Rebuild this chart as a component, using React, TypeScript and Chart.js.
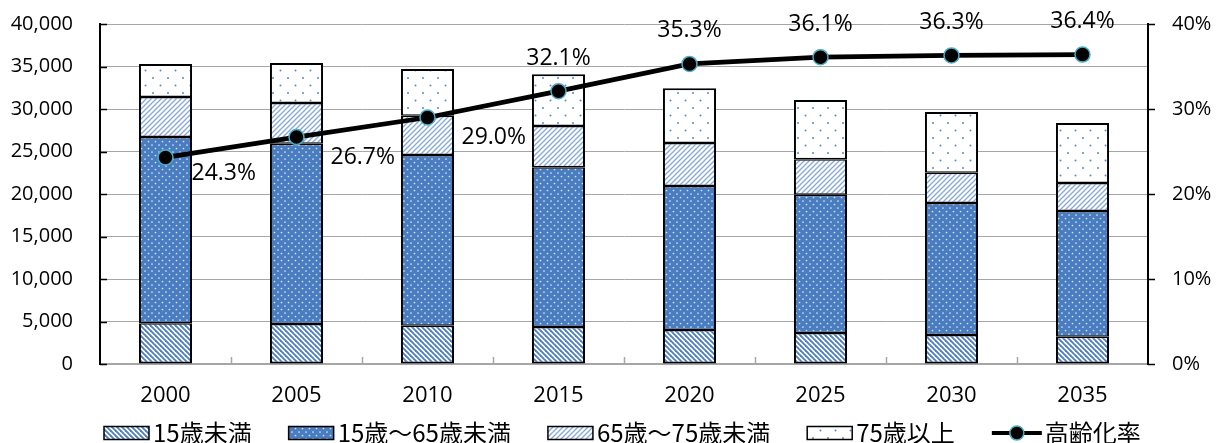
import React, { useEffect, useRef } from 'react';
import { Chart, registerables } from 'chart.js';

Chart.register(...registerables);

const categories = ['2000', '2005', '2010', '2015', '2020', '2025', '2030', '2035'];
const under15 = [4800, 4700, 4500, 4350, 4000, 3650, 3400, 3200];
const age15to64 = [21900, 21200, 20100, 18800, 16950, 16250, 15550, 14800];
const age65to74 = [4700, 4800, 4600, 4850, 5050, 4200, 3550, 3300];
const age75plus = [3900, 4700, 5500, 6100, 6450, 6950, 7150, 7050];
const agingRate = [24.3, 26.7, 29.0, 32.1, 35.3, 36.1, 36.3, 36.4];
const seriesNames = ['15歳未満', '15歳～65歳未満', '65歳～75歳未満', '75歳以上', '高齢化率'];
const leftMax = 40000;
const leftStep = 5000;
const rightMax = 40;
const rightStep = 10;

const NUM_FONT = "'Open Sans', 'Noto Sans CJK JP', sans-serif";
const CJK_FONT = "'Noto Sans CJK JP', 'Open Sans', sans-serif";

function makePattern(w: number, h: number, draw: (g: CanvasRenderingContext2D) => void) {
  const c = document.createElement('canvas');
  c.width = w;
  c.height = h;
  const g = c.getContext('2d') as CanvasRenderingContext2D;
  draw(g);
  return g.createPattern(c, 'repeat') as CanvasPattern;
}

function buildPatterns() {
  const p1 = makePattern(5, 5, (g) => {
    g.fillStyle = '#ffffff';
    g.fillRect(0, 0, 5, 5);
    g.strokeStyle = '#4F7FC3';
    g.lineWidth = 1.9;
    for (let k = -1; k <= 1; k++) {
      g.beginPath();
      g.moveTo(-1, k * 5 - 1);
      g.lineTo(6, 5 + k * 5 + 1);
      g.stroke();
    }
  });
  const p2 = makePattern(7, 7, (g) => {
    g.fillStyle = '#4A7DC0';
    g.fillRect(0, 0, 7, 7);
    g.fillStyle = 'rgba(235,242,250,0.9)';
    g.beginPath();
    g.arc(1.5, 1.5, 0.85, 0, Math.PI * 2);
    g.fill();
    g.beginPath();
    g.arc(5, 5, 0.85, 0, Math.PI * 2);
    g.fill();
  });
  const p3 = makePattern(5, 5, (g) => {
    g.fillStyle = '#ffffff';
    g.fillRect(0, 0, 5, 5);
    g.strokeStyle = '#86A8DA';
    g.lineWidth = 1.3;
    for (let k = 0; k <= 2; k++) {
      g.beginPath();
      g.moveTo(-1, k * 5 + 1);
      g.lineTo(k * 5 + 1, -1);
      g.stroke();
    }
  });
  const p4 = makePattern(15, 15, (g) => {
    g.fillStyle = '#ffffff';
    g.fillRect(0, 0, 15, 15);
    g.fillStyle = '#5B87C8';
    g.beginPath();
    g.arc(3, 3, 1, 0, Math.PI * 2);
    g.fill();
    g.beginPath();
    g.arc(10.5, 10.5, 1, 0, Math.PI * 2);
    g.fill();
  });
  return [p1, p2, p3, p4];
}

const decorPlugin = {
  id: 'decor',
  afterDatasetsDraw(chart: any) {
    const ctx = chart.ctx as CanvasRenderingContext2D;
    const meta = chart.getDatasetMeta(4);
    ctx.save();
    ctx.fillStyle = '#000';
    ctx.font = `23px ${NUM_FONT}`;
    ctx.textBaseline = 'middle';
    meta.data.forEach((pt: any, i: number) => {
      const txt = agingRate[i].toFixed(1) + '%';
      if (i < 3) {
        ctx.textAlign = 'left';
        ctx.fillText(txt, pt.x + (i === 0 ? 26 : 34), pt.y + (i === 0 ? 16 : 20));
      } else {
        ctx.textAlign = 'center';
        ctx.fillText(txt, pt.x, pt.y - 33);
      }
    });
    ctx.restore();
  },
  afterDraw(chart: any) {
    const ctx = chart.ctx as CanvasRenderingContext2D;
    const { left, right, bottom } = chart.chartArea;
    const y = chart.scales.y;
    const y1 = chart.scales.y1;
    const x = chart.scales.x;
    ctx.save();
    ctx.strokeStyle = '#000';
    ctx.lineWidth = 1.5;
    y.ticks.forEach((t: any) => {
      const py = Math.round(y.getPixelForValue(t.value)) + 0.5;
      ctx.beginPath();
      ctx.moveTo(left, py);
      ctx.lineTo(left + 7, py);
      ctx.stroke();
    });
    y1.ticks.forEach((t: any) => {
      const py = Math.round(y1.getPixelForValue(t.value)) + 0.5;
      ctx.beginPath();
      ctx.moveTo(right, py);
      ctx.lineTo(right + 7, py);
      ctx.stroke();
    });
    ctx.strokeStyle = '#A6A6A6';
    const step = x.getPixelForTick(1) - x.getPixelForTick(0);
    for (let i = 1; i < categories.length; i++) {
      const px = Math.round(x.getPixelForTick(i) - step / 2) + 0.5;
      ctx.beginPath();
      ctx.moveTo(px, bottom);
      ctx.lineTo(px, bottom - 7);
      ctx.stroke();
    }

    // legend
    const ds = chart.data.datasets;
    const cy = 433;
    let lx = 104;
    ctx.font = `24px ${CJK_FONT}`;
    ctx.textBaseline = 'middle';
    ctx.textAlign = 'left';
    for (let i = 0; i < 4; i++) {
      ctx.fillStyle = ds[i].backgroundColor;
      ctx.fillRect(lx, cy - 6.5, 45, 13);
      ctx.strokeStyle = '#000';
      ctx.lineWidth = 1.5;
      ctx.strokeRect(lx, cy - 6.5, 45, 13);
      ctx.fillStyle = '#000';
      ctx.fillText(seriesNames[i], lx + 49, cy);
      lx += 49 + ctx.measureText(seriesNames[i]).width + 37;
    }
    ctx.strokeStyle = '#000';
    ctx.lineWidth = 4;
    ctx.beginPath();
    ctx.moveTo(lx, cy);
    ctx.lineTo(lx + 50, cy);
    ctx.stroke();
    ctx.beginPath();
    ctx.arc(lx + 25, cy, 7, 0, Math.PI * 2);
    ctx.fillStyle = '#000';
    ctx.fill();
    ctx.lineWidth = 1.5;
    ctx.strokeStyle = '#4BACC6';
    ctx.stroke();
    ctx.fillStyle = '#000';
    ctx.fillText(seriesNames[4], lx + 53, cy);
    ctx.restore();
  },
};

function bw(i: number) {
  return {
    left: 2,
    right: 2,
    top: i === 3 ? 2 : 1.5,
    bottom: i === 0 ? 2 : 1.5,
  };
}

function fixVertical(width: number) {
  return (s: any) => {
    s.width = width;
    s.paddingTop = 0;
    s.paddingBottom = 0;
  };
}

export default function App() {
  const ref = useRef<HTMLCanvasElement>(null);
  useEffect(() => {
    if (!ref.current) return;
    const pats = buildPatterns();
    const barSeries = [under15, age15to64, age65to74, age75plus];
    const chart = new Chart(ref.current, {
      type: 'bar',
      data: {
        labels: categories,
        datasets: [
          ...barSeries.map((vals, i) => ({
            type: 'bar' as const,
            label: seriesNames[i],
            data: vals,
            backgroundColor: pats[i] as any,
            borderColor: '#000',
            borderWidth: bw(i),
            borderSkipped: false as any,
            inflateAmount: 0,
            yAxisID: 'y',
            order: 2,
            barPercentage: 0.405,
            categoryPercentage: 1,
          })),
          {
            type: 'line' as const,
            label: seriesNames[4],
            data: agingRate,
            borderColor: '#000',
            borderWidth: 4.8,
            backgroundColor: '#000',
            pointBackgroundColor: '#000',
            pointBorderColor: '#4BACC6',
            pointBorderWidth: 1.5,
            pointRadius: 7.5,
            yAxisID: 'y1',
            order: 0,
            tension: 0,
          } as any,
        ],
      },
      options: {
        responsive: false,
        animation: false,
        devicePixelRatio: 1,
        layout: { padding: { top: 24, bottom: 29, left: 0, right: 0 } },
        plugins: { legend: { display: false }, tooltip: { enabled: false }, title: { display: false } },
        scales: {
          x: {
            stacked: true,
            grid: { display: false },
            border: { display: true, color: '#A6A6A6', width: 2 },
            ticks: { color: '#000', font: { family: NUM_FONT, size: 22 }, padding: 11 },
            afterFit: (s: any) => {
              s.height = 50;
              s.paddingLeft = 0;
              s.paddingRight = 0;
            },
          },
          y: {
            stacked: true,
            position: 'left',
            min: 0,
            max: leftMax,
            grid: { color: '#A6A6A6', lineWidth: 1, drawTicks: false },
            border: { display: true, color: '#000', width: 2 },
            ticks: {
              stepSize: leftStep,
              color: '#000',
              padding: 27,
              font: { family: NUM_FONT, size: 20 },
              callback: (v: any) => Number(v).toLocaleString('en-US'),
            },
            afterFit: fixVertical(100),
          },
          y1: {
            position: 'right',
            min: 0,
            max: rightMax,
            grid: { display: false, drawOnChartArea: false, drawTicks: false },
            border: { display: true, color: '#000', width: 2 },
            ticks: {
              stepSize: rightStep,
              color: '#000',
              padding: 24,
              font: { family: NUM_FONT, size: 20 },
              callback: (v: any) => `${v}%`,
            },
            afterFit: fixVertical(68),
          },
        },
      } as any,
      plugins: [decorPlugin],
    });
    return () => chart.destroy();
  }, []);
  return (
    <div style={{ position: 'fixed', left: 0, top: 0, width: 1216, height: 443, background: '#fff' }}>
      <canvas ref={ref} width={1216} height={443} />
    </div>
  );
}
